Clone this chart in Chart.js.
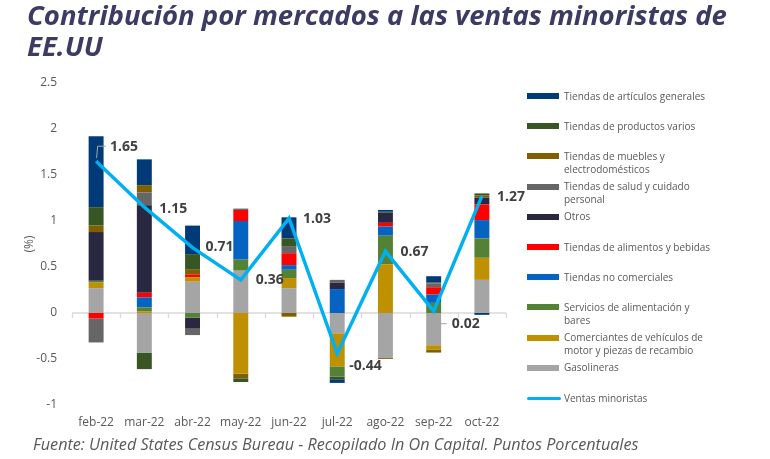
<!DOCTYPE html>
<html>
<head>
<meta charset="utf-8">
<script src="https://cdn.jsdelivr.net/npm/chart.js@4.4.0/dist/chart.umd.min.js"></script>
<style>
  html, body { margin: 0; padding: 0; background: #fff; }
  body { width: 770px; height: 459px; position: relative; overflow: hidden; font-family: "Open Sans", sans-serif; }
  #title { position: absolute; left: 27px; top: -1px; font-family: "Open Sans", sans-serif; font-weight: 700; font-style: italic; font-size: 27.5px; line-height: 31px; color: #3D3A64; z-index: 2; white-space: nowrap; }
  #footer { position: absolute; left: 33px; top: 433px; font-family: "Open Sans", sans-serif; font-style: italic; font-size: 16.2px; line-height: 22px; color: #595959; z-index: 2; white-space: nowrap; }
  #c { position: absolute; left: 0; top: 0; }
  #legend { position: absolute; left: 527px; top: 0; width: 240px; z-index: 2; }
  .li { position: absolute; left: 0; width: 190px; font-family: "Open Sans", sans-serif; font-size: 10px; line-height: 13px; color: #595959; }
  .sw { position: absolute; left: 0; top: 3.5px; width: 32px; height: 6px; }
  .swl { position: absolute; left: 0; top: 5px; width: 34px; height: 3px; border-radius: 2px; }
  .tx { position: absolute; left: 37px; top: 0; width: 150px; }
</style>
</head>
<body>
<div id="title">Contribución por mercados a las ventas minoristas de<br>EE.UU</div>
<canvas id="c" width="770" height="459"></canvas>
<div id="legend"></div>
<div id="footer">Fuente: United States Census Bureau - Recopilado In On Capital. Puntos Porcentuales</div>
<script>
// ---- Data ----
const months = ['feb-22','mar-22','abr-22','may-22','jun-22','jul-22','ago-22','sep-22','oct-22'];
const yTicks = [-1, -0.5, 0, 0.5, 1, 1.5, 2, 2.5];

const gasolineras   = [0.27, -0.43, 0.34, 0.46, 0.27, -0.22, -0.49, -0.35, 0.36];
const comerciantes  = [0.06, 0.02, 0.05, -0.66, 0.11, -0.36, 0.53, -0.05, 0.24];
const servicios     = [0.02, 0.04, -0.05, 0.12, 0.09, -0.11, 0.31, 0.11, 0.21];
const noComerciales = [0.00, 0.11, 0.00, 0.42, 0.05, 0.26, 0.10, 0.09, 0.20];
const alimentos     = [-0.06, 0.05, 0.03, 0.12, 0.13, 0.00, 0.04, 0.08, 0.17];
const otros         = [0.53, 0.95, -0.12, 0.00, 0.00, 0.07, 0.11, 0.00, 0.07];
const salud         = [-0.26, 0.14, -0.07, 0.015, 0.07, 0.03, 0.00, 0.04, 0.01];
const muebles       = [0.07, 0.08, 0.05, -0.05, -0.04, 0.00, -0.01, -0.03, 0.02];
const productos     = [0.20, -0.18, 0.17, -0.04, 0.09, -0.03, 0.01, 0.01, 0.02];
const generales     = [0.77, 0.28, 0.31, 0.00, 0.23, -0.04, 0.02, 0.07, -0.02];
const ventas        = [1.65, 1.15, 0.71, 0.36, 1.03, -0.44, 0.67, 0.02, 1.27];

const series = [
  { label: 'Gasolineras', data: gasolineras, color: '#A5A5A5' },
  { label: 'Comerciantes de vehículos de motor y piezas de recambio', data: comerciantes, color: '#BF9000' },
  { label: 'Servicios de alimentación y bares', data: servicios, color: '#548235' },
  { label: 'Tiendas no comerciales', data: noComerciales, color: '#0563C1' },
  { label: 'Tiendas de alimentos y bebidas', data: alimentos, color: '#FF0000' },
  { label: 'Otros', data: otros, color: '#2A2840' },
  { label: 'Tiendas de salud y cuidado personal', data: salud, color: '#666666' },
  { label: 'Tiendas de muebles y electrodomésticos', data: muebles, color: '#7F6000' },
  { label: 'Tiendas de productos varios', data: productos, color: '#375623' },
  { label: 'Tiendas de artículos generales', data: generales, color: '#003B78' }
];

const datasets = series.map(s => ({
  type: 'bar', label: s.label, data: s.data, backgroundColor: s.color,
  borderWidth: 0, stack: 'bars', order: 1,
  barPercentage: 0.31, categoryPercentage: 1.0
}));
datasets.push({
  type: 'line', label: 'Ventas minoristas', data: ventas, borderColor: '#00B0F0',
  backgroundColor: '#00B0F0', borderWidth: 3.5, pointRadius: 0, tension: 0,
  stack: 'line', order: 0, borderJoinStyle: 'miter'
});

// label placement relative to each line point (dx to text left, dy to text middle)
const labelOffsets = [[14,-15],[15,1],[13,-1],[15,0],[14,0],[12,12],[15,0],[18,12],[15,0]];
const leaders = { 0: 'up', 7: 'side' };

const axisPlugin = {
  id: 'axisDeco',
  beforeDatasetsDraw(chart) {
    const { ctx, scales: { x, y }, chartArea } = chart;
    const y0 = y.getPixelForValue(0);
    ctx.save();
    ctx.strokeStyle = '#D9D9D9';
    ctx.lineWidth = 1.3;
    ctx.beginPath();
    ctx.moveTo(chartArea.left, y0);
    ctx.lineTo(chartArea.right, y0);
    for (let i = 0; i <= months.length; i++) {
      const px = Math.round(x.getPixelForValue(i - 0.5)) + 0.5;
      ctx.moveTo(px, y0);
      ctx.lineTo(px, y0 + 5);
    }
    ctx.stroke();
    ctx.restore();
  }
};

const labelPlugin = {
  id: 'lineLabels',
  afterDatasetsDraw(chart) {
    const { ctx } = chart;
    const idx = chart.data.datasets.length - 1;
    const meta = chart.getDatasetMeta(idx);
    ctx.save();
    ctx.font = 'bold 14px "Open Sans"';
    ctx.fillStyle = '#404040';
    ctx.textBaseline = 'middle';
    ctx.textAlign = 'left';
    meta.data.forEach((pt, i) => {
      const [dx, dy] = labelOffsets[i];
      const tx = pt.x + dx, ty = pt.y + dy;
      const v = chart.data.datasets[idx].data[i];
      if (leaders[i]) {
        ctx.strokeStyle = '#A6A6A6';
        ctx.lineWidth = 1;
        ctx.beginPath();
        if (leaders[i] === 'up') {
          ctx.moveTo(pt.x + 0.5, pt.y - 3);
          ctx.lineTo(pt.x + 1.5, ty);
          ctx.lineTo(tx - 4, ty);
        } else {
          ctx.moveTo(tx - 11, ty + 0.5);
          ctx.lineTo(tx - 5, ty + 0.5);
        }
        ctx.stroke();
      }
      ctx.fillText(v.toFixed(2), tx, ty + 0.5);
    });
    ctx.restore();
  }
};

const chart = new Chart(document.getElementById('c'), {
  data: { labels: months, datasets },
  options: {
    responsive: false,
    animation: false,
    layout: { padding: { left: 0, right: 264, top: 83, bottom: 24 } },
    plugins: { legend: { display: false }, tooltip: { enabled: false } },
    scales: {
      x: {
        stacked: true,
        grid: { display: false, drawTicks: false },
        border: { display: false },
        ticks: { color: '#595959', font: { family: 'Open Sans', size: 12 }, padding: 10, maxRotation: 0 },
        afterFit(s) { s.height = 30; }
      },
      y: {
        stacked: true,
        min: -1, max: 2.5,
        afterBuildTicks(s) { s.ticks = yTicks.map(v => ({ value: v })); },
        grid: { display: false, drawTicks: false },
        border: { display: false },
        ticks: { color: '#595959', font: { family: 'Open Sans', size: 12 }, padding: 15, callback: v => String(v) },
        title: { display: true, text: '(%)', color: '#595959', font: { family: 'Open Sans', size: 12 }, padding: { top: 22, bottom: 0 } },
        afterFit(s) { s.width = 72; }
      }
    }
  },
  plugins: [axisPlugin, labelPlugin]
});

// ---- HTML legend (reverse order, like the reference) ----
const legend = document.getElementById('legend');
const items = chart.data.datasets.slice(0, series.length).slice().reverse();
items.push(chart.data.datasets[chart.data.datasets.length - 1]);
items.forEach((ds, i) => {
  const d = document.createElement('div');
  d.className = 'li';
  d.style.top = (96 + i * 30.2 - 6.5) + 'px';
  const sw = document.createElement('div');
  sw.className = ds.type === 'line' ? 'swl' : 'sw';
  sw.style.background = ds.type === 'line' ? ds.borderColor : ds.backgroundColor;
  const tx = document.createElement('div');
  tx.className = 'tx';
  tx.textContent = ds.label;
  d.appendChild(sw); d.appendChild(tx);
  legend.appendChild(d);
});
</script>
</body>
</html>
